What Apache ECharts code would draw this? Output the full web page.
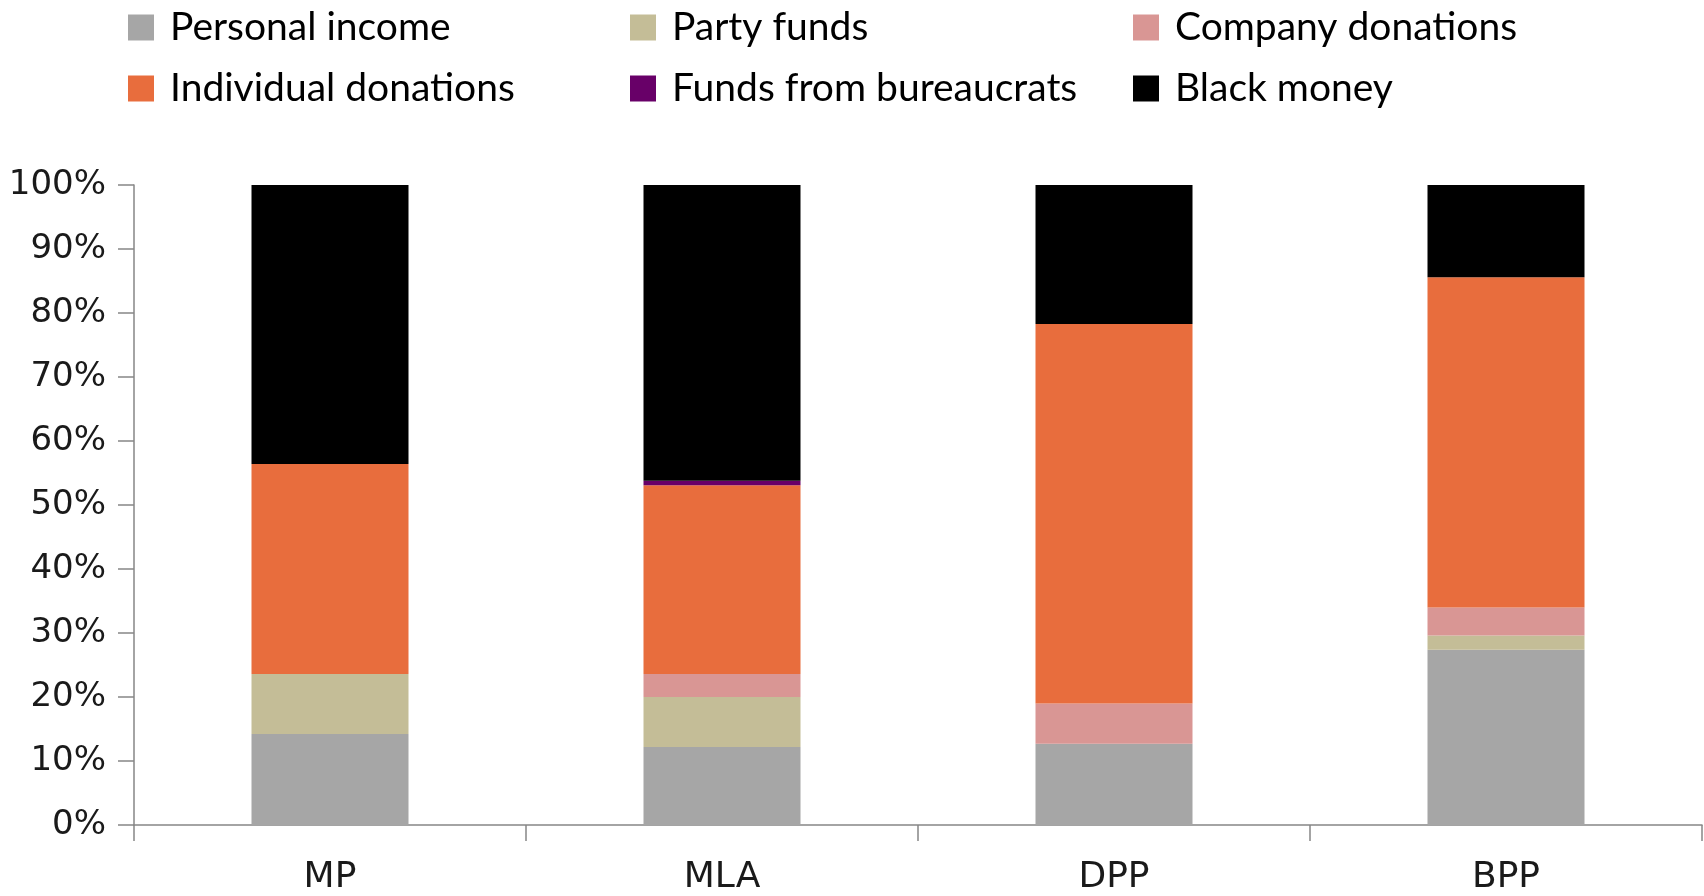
<!DOCTYPE html>
<html>
<head>
<meta charset="utf-8">
<title>Campaign funding sources</title>
<script src="https://cdn.jsdelivr.net/npm/echarts@6/dist/echarts.min.js"></script>
<style>
    html, body {margin: 0; padding: 0; background: #fff;}
    #chart {width: 1704px; height: 896px;}
</style>
</head>
<body>
<div id="chart"></div>
<script>
// categories along the x axis
const categories = ['MP', 'MLA', 'DPP', 'BPP'];

// share of funding (%) per source, bottom of the stack first
const personalIncome = [14.2, 12.2, 12.7, 27.4];
const partyFunds = [9.4, 7.8, 0, 2.2];
const companyDonations = [0, 3.6, 6.3, 4.4];
const individualDonations = [32.8, 29.5, 59.3, 51.6];
const bureaucratFunds = [0, 0.7, 0, 0];
const blackMoney = [43.6, 46.2, 21.7, 14.4];

const yTicks = [0, 10, 20, 30, 40, 50, 60, 70, 80, 90, 100];

const seriesDefs = [
    {name: 'Personal income', data: personalIncome, color: '#a6a6a6'},
    {name: 'Party funds', data: partyFunds, color: '#c4bd97'},
    {name: 'Company donations', data: companyDonations, color: '#d99694'},
    {name: 'Individual donations', data: individualDonations, color: '#e86d3d'},
    {name: 'Funds from bureaucrats', data: bureaucratFunds, color: '#680068'},
    {name: 'Black money', data: blackMoney, color: '#000000'}
];

const axisFont = 'DejaVu Sans, sans-serif';
const legendFont = 'Lato, sans-serif';

const legendCol = (names, left) => ({
    data: names,
    left: left,
    top: 3,
    orient: 'vertical',
    itemGap: 22,
    itemWidth: 26,
    itemHeight: 26,
    icon: 'rect',
    selectedMode: false,
    textStyle: {
        fontFamily: legendFont,
        fontSize: 39,
        color: '#000',
        padding: [0, 0, 0, 11]
    }
});

let chart = echarts.init(document.getElementById('chart'));

let option = {
    animation: false,
    legend: [
        legendCol(['Personal income', 'Individual donations'], 123),
        legendCol(['Party funds', 'Funds from bureaucrats'], 625),
        legendCol(['Company donations', 'Black money'], 1128)
    ],
    grid: {
        left: 134,
        right: 2,
        top: 185,
        bottom: 70,
        containLabel: false
    },
    xAxis: {
        type: 'category',
        data: categories,
        boundaryGap: true,
        axisLine: {lineStyle: {color: '#868686', width: 1.5}},
        axisTick: {show: true, length: 16, alignWithLabel: false, lineStyle: {color: '#868686', width: 1.5}},
        axisLabel: {
            fontFamily: axisFont,
            fontSize: 36,
            color: '#1a1a1a',
            margin: 35
        }
    },
    yAxis: {
        type: 'value',
        min: yTicks[0],
        max: yTicks[yTicks.length - 1],
        interval: yTicks[1] - yTicks[0],
        axisLine: {show: true, lineStyle: {color: '#868686', width: 1.5}},
        axisTick: {show: true, length: 16, lineStyle: {color: '#868686', width: 1.5}},
        splitLine: {show: false},
        axisLabel: {
            fontFamily: axisFont,
            fontSize: 34,
            color: '#1a1a1a',
            margin: 28,
            formatter: '{value}%'
        }
    },
    series: seriesDefs.map(s => ({
        name: s.name,
        type: 'bar',
        stack: 'total',
        barWidth: 157,
        data: s.data,
        itemStyle: {color: s.color}
    }))
};

chart.setOption(option);
</script>
</body>
</html>
